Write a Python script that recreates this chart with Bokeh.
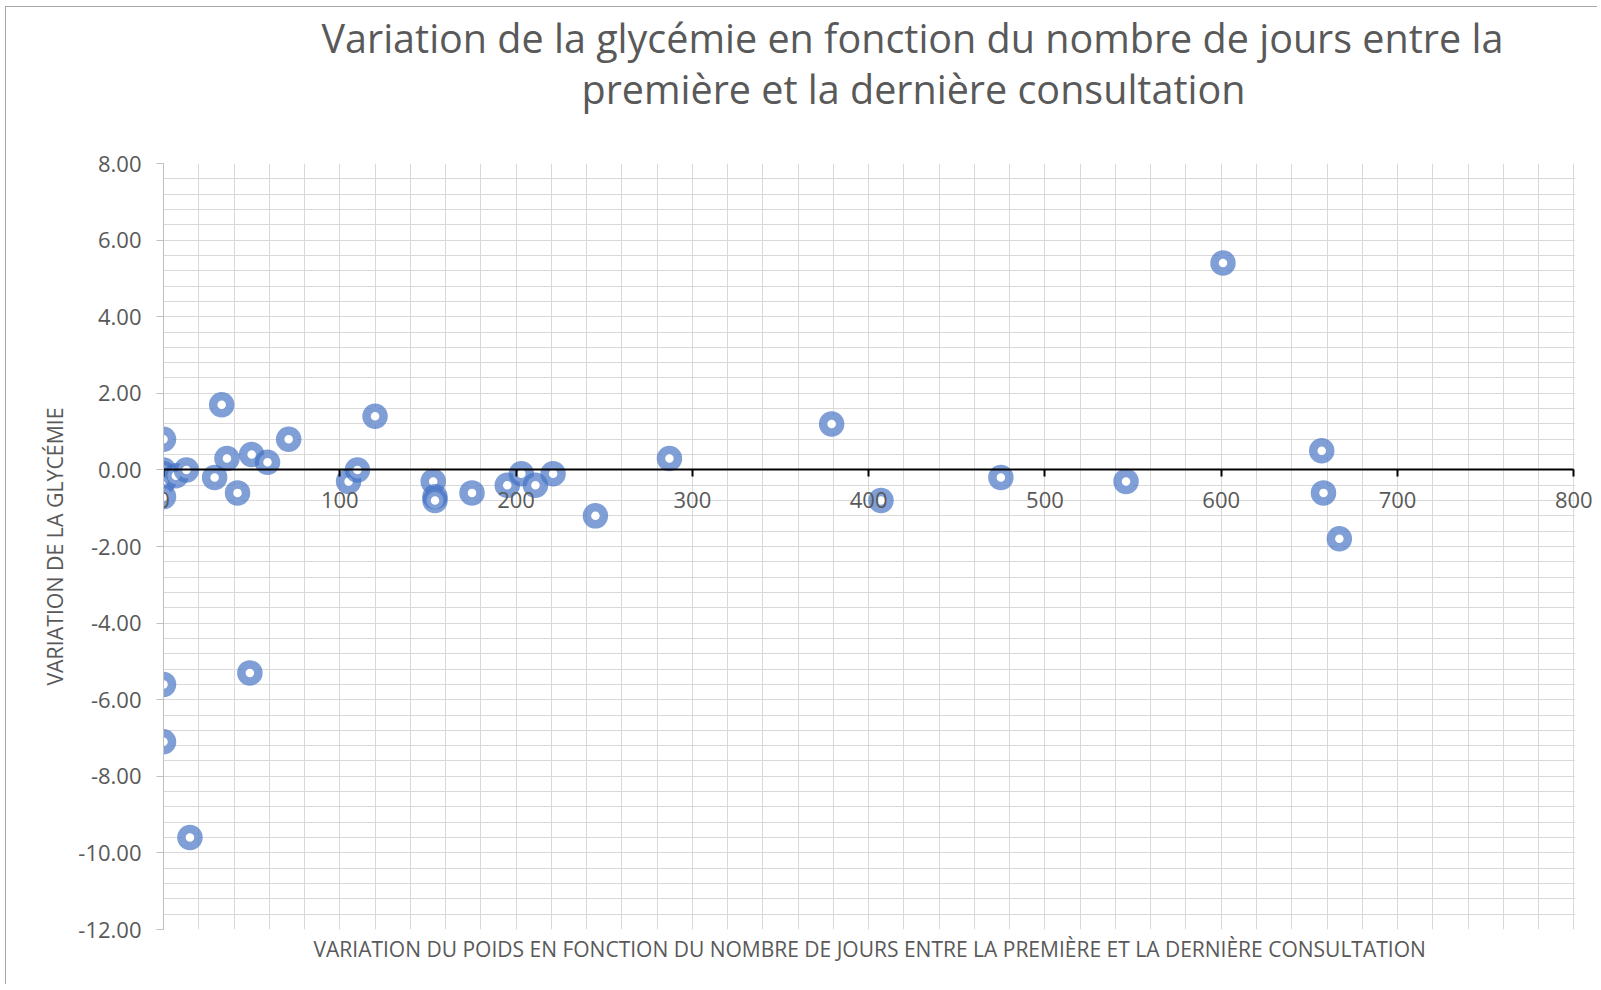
from bokeh.plotting import figure
from bokeh.models import (SingleIntervalTicker, NumeralTickFormatter, Range1d, Title,
                          ColumnDataSource, BoxAnnotation)
from bokeh.embed import file_html
from bokeh.resources import INLINE

# Days between first and last consultation
days = [0, 0, 0, 0, 0, 7, 13, 33, 29, 36, 42, 50, 59, 71, 105, 110, 120, 153, 154, 154,
        175, 195, 203, 211, 221, 245, 287, 379, 407, 475, 546, 601, 657, 658, 667,
        0, 0, 49, 15]
# Variation of glycemia
glyc = [0.8, 0.0, -0.1, -0.3, -0.7, -0.15, 0.0, 1.7, -0.2, 0.3, -0.6, 0.4, 0.2, 0.8,
        -0.3, 0.0, 1.4, -0.3, -0.7, -0.8, -0.6, -0.4, -0.1, -0.4, -0.1, -1.2, 0.3, 1.2,
        -0.8, -0.2, -0.3, 5.4, 0.5, -0.6, -1.8, -5.6, -7.1, -5.3, -9.6]

title_lines = ["Variation de la glycémie en fonction du nombre de jours entre la",
               "première et la dernière consultation"]
x_title = "VARIATION DU POIDS EN FONCTION DU NOMBRE DE JOURS ENTRE LA PREMIÈRE ET LA DERNIÈRE CONSULTATION"
y_title = "VARIATION DE LA GLYCÉMIE"

X_MAX = 800
FONT = "Open Sans"
TXT = "#595959"
GRID = "#d9d9d9"

p = figure(width=1592, height=978, output_backend="svg", toolbar_location=None,
           x_range=Range1d(0, 814), y_range=Range1d(-12, 8),
           min_border_left=157, min_border_top=156, min_border_right=0, min_border_bottom=56)
p.margin = (6, 0, 0, 5)
p.styles = {"border-left": "1px solid #a6a6a6", "border-top": "1px solid #a6a6a6"}
p.outline_line_color = None
p.background_fill_color = "white"
p.border_fill_color = "white"

# chart title (two lines): outer line is p.title, inner items stack from the frame outward
p.title.text = title_lines[0]
p.title.align = "left"
p.title.text_font = FONT
p.title.text_font_size = "39.5px"
p.title.text_font_style = "normal"
p.title.text_color = TXT
p.title.offset = 158
p.title.standoff = -10
spacer = Title(text=" ", text_font_size="1px", standoff=45)
p.add_layout(spacer, "above")
t2 = Title(text=title_lines[1], align="left", text_font=FONT, text_font_size="39.5px",
           text_font_style="normal", text_color=TXT, offset=418, standoff=0)
p.add_layout(t2, "above")

# x axis at y = 0
xa = p.xaxis[0]
xa.ticker = SingleIntervalTicker(interval=100, num_minor_ticks=5)
xa.fixed_location = 0
xa.bounds = (0, X_MAX)
xa.axis_line_color = "black"
xa.axis_line_width = 2
xa.major_tick_line_color = "black"
xa.major_tick_line_width = 2
xa.major_tick_out = 7
xa.major_tick_in = 0
xa.minor_tick_line_color = None
xa.major_label_text_font = FONT
xa.major_label_text_font_size = "22px"
xa.major_label_text_color = TXT
xa.major_label_standoff = 15

xt = Title(text=x_title, align="left", offset=150, text_font=FONT, text_font_size="21px",
           text_font_style="normal", text_color=TXT, standoff=6)
p.add_layout(xt, "below")

ya = p.yaxis[0]
ya.ticker = SingleIntervalTicker(interval=2, num_minor_ticks=5)
ya.formatter = NumeralTickFormatter(format="0.00")
ya.axis_line_color = "#bfbfbf"
ya.major_tick_line_color = "#bfbfbf"
ya.major_tick_out = 7
ya.major_tick_in = 0
ya.minor_tick_line_color = None
ya.major_label_text_font = FONT
ya.major_label_text_font_size = "22px"
ya.major_label_text_color = TXT
ya.major_label_standoff = 15
ya.axis_label = y_title
ya.axis_label_text_font = FONT
ya.axis_label_text_font_size = "21.3px"
ya.axis_label_text_font_style = "normal"
ya.axis_label_text_color = TXT
ya.axis_label_standoff = 6

for g in (p.xgrid[0], p.ygrid[0]):
    g.grid_line_color = GRID
    g.grid_line_width = 1
    g.minor_grid_line_color = GRID
    g.minor_grid_line_width = 1
p.xgrid[0].ticker = xa.ticker
p.ygrid[0].ticker = ya.ticker

# hide the grid beyond the last value of the plot area (room for the "800" label)
p.add_layout(BoxAnnotation(left=X_MAX + 0.6, fill_color="white", fill_alpha=1.0,
                           line_color=None, level="underlay"))

src = ColumnDataSource(dict(x=days, y=glyc))
p.scatter("x", "y", source=src, size=17, fill_color="white", fill_alpha=1.0,
          line_color="#4472C4", line_alpha=0.68, line_width=8.5)

open("out.html", "w").write(file_html(p, INLINE))
